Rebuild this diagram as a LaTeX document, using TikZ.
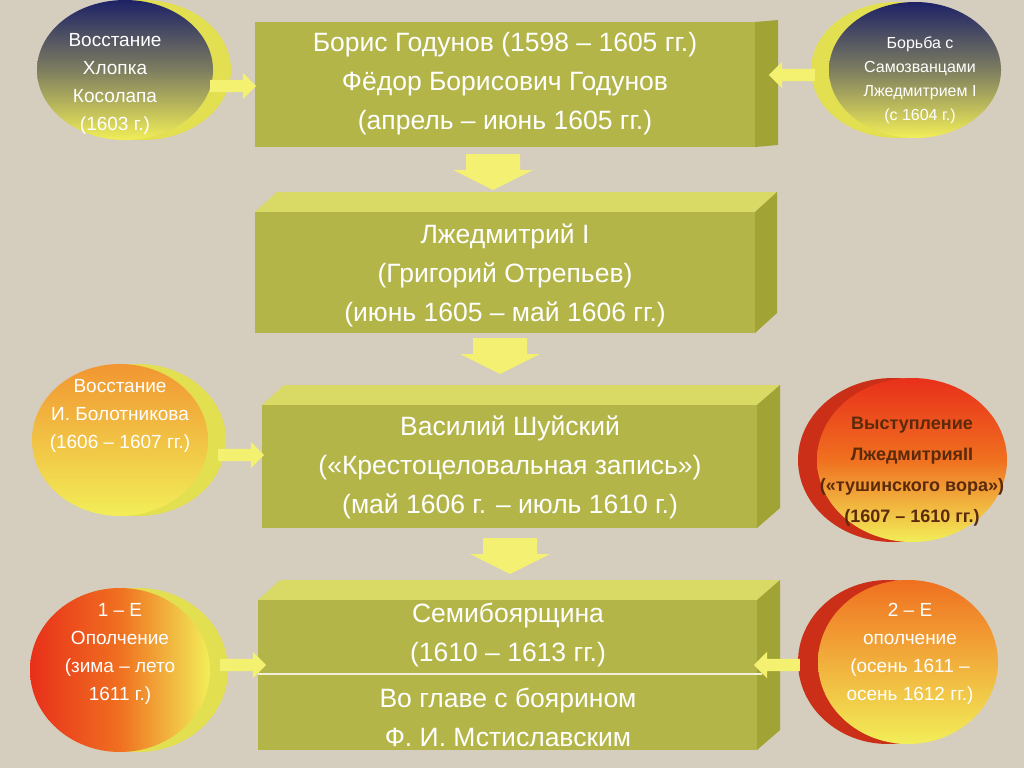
\documentclass[tikz,border=0pt]{standalone}
\usepackage{fontspec}
\setmainfont{Liberation Sans}
\usetikzlibrary{shapes.arrows,shapes.geometric}
\definecolor{bg}{HTML}{D5CDBD}
\definecolor{front}{HTML}{B3B548}
\definecolor{topf}{HTML}{D9DA66}
\definecolor{sidef}{HTML}{A2A335}
\definecolor{navy}{HTML}{1E2266}
\definecolor{yel}{HTML}{F2EE58}
\definecolor{ora}{HTML}{F07020}
\definecolor{red1}{HTML}{E8301A}
\definecolor{brn}{HTML}{5A2A0A}
\tikzset{
  boxtxt/.style={text=white,font=\fontsize{26.5}{39}\selectfont,align=center},
  circtxt/.style={text=white,font=\fontsize{19}{28}\selectfont,align=center},
  harrow/.style={single arrow,fill=yel!85!white,draw=none,minimum height=46pt,minimum width=24pt,inner sep=6pt},
  downarr/.pic={\fill[yel!85!white] (-27,-18) -- (27,-18) -- (27,-2) -- (40,-2) -- (0,18) -- (-40,-2) -- (-27,-2) -- cycle;},
}
\begin{document}
\begin{tikzpicture}[x=1pt,y=-1pt]
\fill[bg] (0,0) rectangle (1024,768);
\useasboundingbox (0,0) rectangle (1024,768);
% boxes
\fill[sidef] (755,22) -- (778,20) -- (778,145) -- (755,147) -- cycle;
\fill[front] (255,22) rectangle (755,147);
\node[boxtxt] (b1) at (505,84) {Борис Годунов (1598 – 1605 гг.)\\Фёдор Борисович Годунов\\(апрель – июнь 1605 гг.)};
\fill[topf] (255,212) -- (277,192) -- (777,192) -- (755,212) -- cycle;
\fill[sidef] (755,212) -- (777,192) -- (777,313) -- (755,333) -- cycle;
\fill[front] (255,212) rectangle (755,333);
\node[boxtxt] (b2) at (505,275) {Лжедмитрий I\\(Григорий  Отрепьев)\\(июнь 1605 – май 1606 гг.)};
\fill[topf] (262,405) -- (284,385) -- (780,385) -- (757,405) -- cycle;
\fill[sidef] (757,405) -- (780,385) -- (780,508) -- (757,528) -- cycle;
\fill[front] (262,405) rectangle (757,528);
\node[boxtxt] (b3) at (510,467) {Василий Шуйский\\(«Крестоцеловальная запись»)\\(май 1606 г. – июль 1610 г.)};
\fill[topf] (258,600) -- (280,580) -- (780,580) -- (757,600) -- cycle;
\fill[sidef] (757,600) -- (780,580) -- (780,730) -- (757,750) -- cycle;
\fill[front] (258,600) rectangle (757,750);
\draw[white!80!front,line width=1.2pt] (258,674) -- (762,674);
\node[boxtxt] (b4) at (508,635) {Семибоярщина\\(1610 – 1613 гг.)};
\node[boxtxt] (b4b) at (508,717) {Во главе с боярином\\Ф. И. Мстиславским};
% down arrows
\coordinate (d1) at (493,172); \pic at (d1) {downarr};
\coordinate (d2) at (500,356); \pic at (d2) {downarr};
\coordinate (d3) at (510,556); \pic at (d3) {downarr};
% circles
\fill[yel!80!sidef] (143,70) ellipse (88 and 70);
\shade[top color=navy,bottom color=yel,middle color=yel!45!navy] (125,70) ellipse (88 and 70);
\node[circtxt] (c1) at (115,84) {Восстание\\Хлопка\\Косолапа\\(1603 г.)};
\fill[yel!80!sidef] (897,70) ellipse (86 and 68);
\shade[top color=navy,bottom color=yel,middle color=yel!45!navy] (915,70) ellipse (86 and 68);
\node[circtxt,font=\fontsize{16}{24}\selectfont] (c2) at (920,80) {Борьба с\\Самозванцами\\Лжедмитрием I\\(с 1604 г.)};
\fill[yel!80!sidef] (138,440) ellipse (88 and 76);
\shade[top color=ora!70!yel,bottom color=yel] (120,440) ellipse (88 and 76);
\node[circtxt] (c3) at (120,416) {Восстание\\И. Болотникова\\(1606 – 1607 гг.)};
\fill[red1!80!brn] (893,460) ellipse (95 and 82);
\shade[top color=red1,bottom color=yel,middle color=ora] (912,460) ellipse (95 and 82);
\node[circtxt,text=brn,font=\bfseries\fontsize{18}{31}\selectfont] (c4) at (912,472) {Выступление\\Лжедмитрия\textbf{II}\\(«тушинского вора»)\\(1607 – 1610 гг.)};
\fill[yel!80!sidef] (138,670) ellipse (90 and 82);
\shade[left color=red1,right color=yel,middle color=ora] (120,670) ellipse (90 and 82);
\node[circtxt] (c5) at (120,654) {1 – Е\\Ополчение\\(зима – лето\\1611 г.)};
\fill[red1!80!brn] (888,662) ellipse (90 and 82);
\shade[top color=ora,bottom color=yel] (908,662) ellipse (90 and 82);
\node[circtxt] (c6) at (910,654) {2 – Е\\ополчение\\(осень 1611 –\\осень 1612 гг.)};
% side arrows
\node[harrow] (a1) at (230,86) {};
\node[harrow,shape border rotate=180] (a2) at (795,75) {};
\node[harrow] (a3) at (238,455) {};
\node[harrow] (a4) at (240,665) {};
\node[harrow,shape border rotate=180] (a5) at (780,665) {};
\end{tikzpicture}
\end{document}
